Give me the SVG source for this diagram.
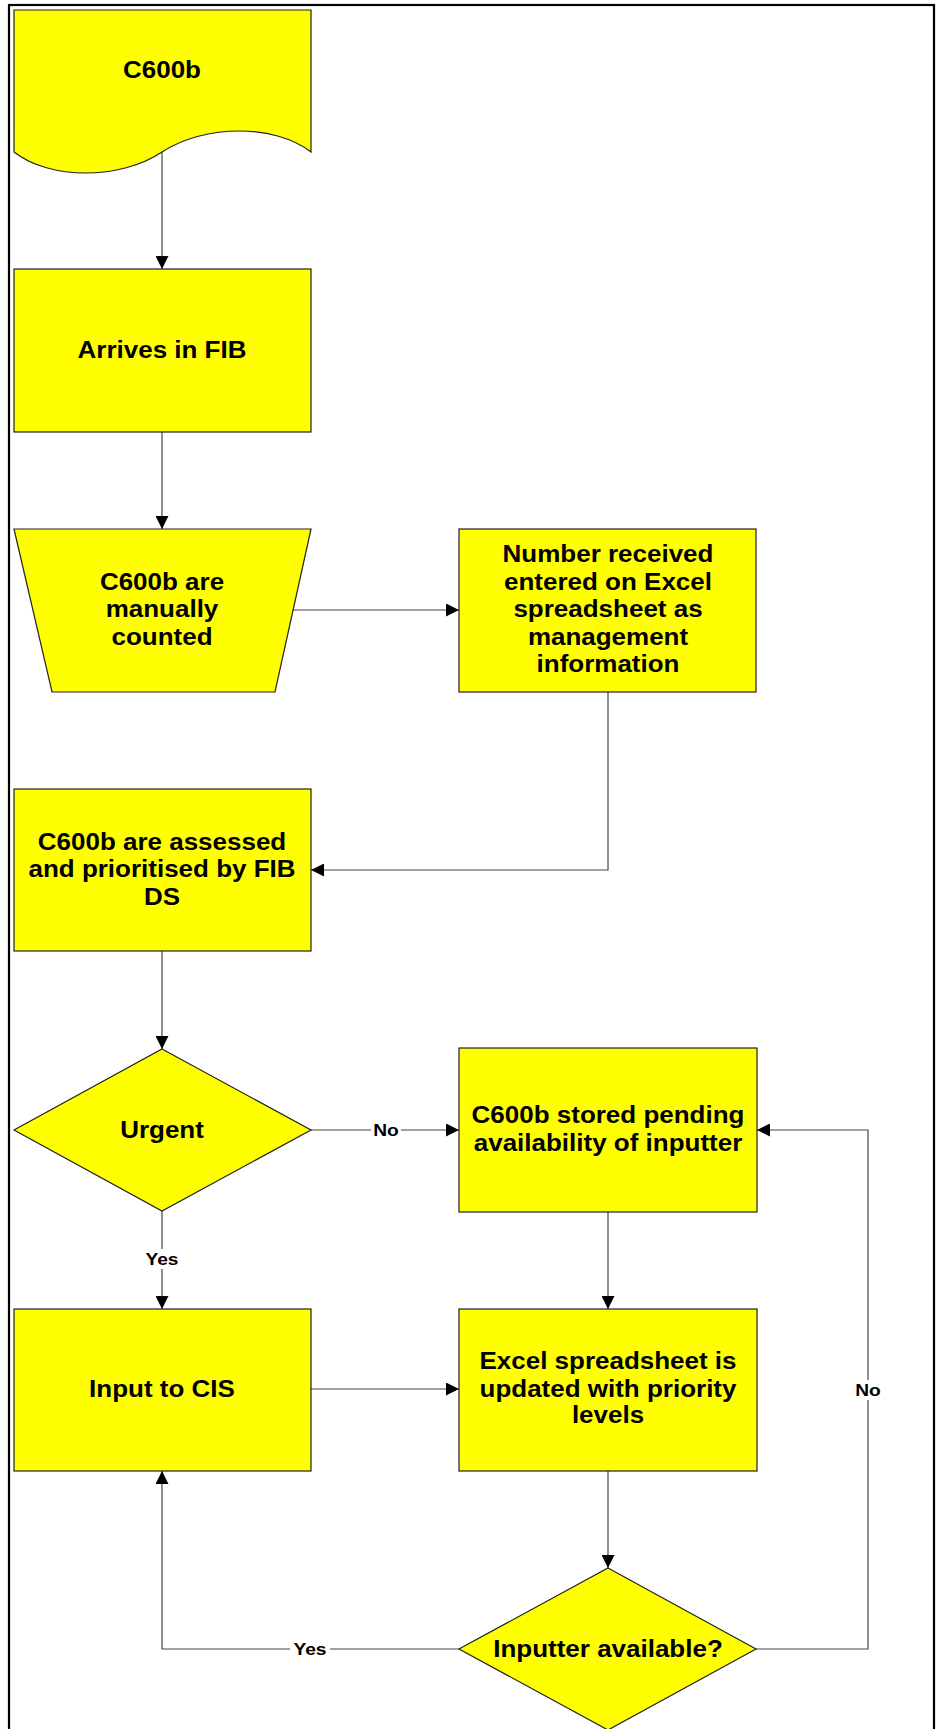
<svg xmlns="http://www.w3.org/2000/svg" width="936" height="1729" viewBox="0 0 936 1729">
<style>
  .shape { fill: #FFFF00; stroke: #222; stroke-width: 1.2; }
  .conn { fill: none; stroke: #444; stroke-width: 1.2; }
  .t { font-family: "Liberation Sans", Arial, sans-serif; font-weight: bold; font-size: 23px; fill: #000; text-anchor: middle; }
  .lbl { font-family: "Liberation Sans", Arial, sans-serif; font-weight: bold; font-size: 17px; fill: #000; text-anchor: middle; }
  .bg { fill: #fff; stroke: none; }
</style>
<defs>
  <marker id="arr" markerUnits="userSpaceOnUse" markerWidth="13" markerHeight="13" refX="13" refY="6.5" orient="auto">
    <path d="M0,0 L13,6.5 L0,13 z" fill="#000"/>
  </marker>
</defs>
<rect width="936" height="1729" fill="#fff"/>
<rect id="frame" x="9" y="5" width="925" height="1740" fill="none" stroke="#000" stroke-width="2.2"/>

<g id="connectors">
  <path class="conn" d="M162,152 V269" marker-end="url(#arr)"/>
  <path class="conn" d="M162,432 V529" marker-end="url(#arr)"/>
  <path class="conn" d="M293,610 H459" marker-end="url(#arr)"/>
  <path class="conn" d="M608,692 V870 H311" marker-end="url(#arr)"/>
  <path class="conn" d="M162,951 V1049" marker-end="url(#arr)"/>
  <path class="conn" d="M311,1130 H459" marker-end="url(#arr)"/>
  <path class="conn" d="M162,1211 V1309" marker-end="url(#arr)"/>
  <path class="conn" d="M608,1212 V1309" marker-end="url(#arr)"/>
  <path class="conn" d="M311,1389 H459" marker-end="url(#arr)"/>
  <path class="conn" d="M608,1471 V1568" marker-end="url(#arr)"/>
  <path class="conn" d="M459,1649 H162 V1471" marker-end="url(#arr)"/>
  <path class="conn" d="M756,1649 H868 V1130 H757" marker-end="url(#arr)"/>
  <g id="labels">
    <rect class="bg" x="371" y="1120" width="30" height="20"/>
    <text class="lbl" transform="translate(386 0) scale(1.13 1)" y="1136">No</text>
    <rect class="bg" x="142" y="1249" width="40" height="20"/>
    <text class="lbl" transform="translate(162 0) scale(1.13 1)" y="1265">Yes</text>
    <rect class="bg" x="853" y="1380" width="30" height="20"/>
    <text class="lbl" transform="translate(868 0) scale(1.13 1)" y="1396">No</text>
    <rect class="bg" x="290" y="1639" width="40" height="20"/>
    <text class="lbl" transform="translate(310 0) scale(1.13 1)" y="1655">Yes</text>
  </g>
</g>

<g id="n_c600b">
  <path class="shape" d="M14,10 H311 V152 C275,124 205,124 162,152 C120,180 50,180 14,152 Z"/>
  <text class="t" transform="translate(162 0) scale(1.13 1)" y="78">C600b</text>
</g>

<g id="n_arrives">
  <rect class="shape" x="14" y="269" width="297" height="163"/>
  <text class="t" transform="translate(162 0) scale(1.13 1)" y="358">Arrives in FIB</text>
</g>

<g id="n_counted">
  <path class="shape" d="M14,529 H311 L275,692 H52 Z"/>
  <text class="t" transform="translate(162 0) scale(1.13 1)" y="590">C600b are</text>
  <text class="t" transform="translate(162 0) scale(1.13 1)" y="617">manually</text>
  <text class="t" transform="translate(162 0) scale(1.13 1)" y="645">counted</text>
</g>

<g id="n_number">
  <rect class="shape" x="459" y="529" width="297" height="163"/>
  <text class="t" transform="translate(608 0) scale(1.13 1)" y="562">Number received</text>
  <text class="t" transform="translate(608 0) scale(1.13 1)" y="590">entered on Excel</text>
  <text class="t" transform="translate(608 0) scale(1.13 1)" y="617">spreadsheet as</text>
  <text class="t" transform="translate(608 0) scale(1.13 1)" y="645">management</text>
  <text class="t" transform="translate(608 0) scale(1.13 1)" y="672">information</text>
</g>

<g id="n_assessed">
  <rect class="shape" x="14" y="789" width="297" height="162"/>
  <text class="t" transform="translate(162 0) scale(1.13 1)" y="850">C600b are assessed</text>
  <text class="t" transform="translate(162 0) scale(1.13 1)" y="877">and prioritised by FIB</text>
  <text class="t" transform="translate(162 0) scale(1.13 1)" y="905">DS</text>
</g>

<g id="n_urgent">
  <path class="shape" d="M162,1049 L311,1130 L162,1211 L14,1130 Z"/>
  <text class="t" transform="translate(162 0) scale(1.13 1)" y="1138">Urgent</text>
</g>

<g id="n_stored">
  <rect class="shape" x="459" y="1048" width="298" height="164"/>
  <text class="t" transform="translate(608 0) scale(1.13 1)" y="1123">C600b stored pending</text>
  <text class="t" transform="translate(608 0) scale(1.13 1)" y="1151">availability of inputter</text>
</g>

<g id="n_input">
  <rect class="shape" x="14" y="1309" width="297" height="162"/>
  <text class="t" transform="translate(162 0) scale(1.13 1)" y="1397">Input to CIS</text>
</g>

<g id="n_excel">
  <rect class="shape" x="459" y="1309" width="298" height="162"/>
  <text class="t" transform="translate(608 0) scale(1.13 1)" y="1369">Excel spreadsheet is</text>
  <text class="t" transform="translate(608 0) scale(1.13 1)" y="1397">updated with priority</text>
  <text class="t" transform="translate(608 0) scale(1.13 1)" y="1423">levels</text>
</g>

<g id="n_inputter">
  <path class="shape" d="M608,1568 L756,1649 L608,1730 L459,1649 Z"/>
  <text class="t" transform="translate(608 0) scale(1.13 1)" y="1657">Inputter available?</text>
</g>
</svg>
